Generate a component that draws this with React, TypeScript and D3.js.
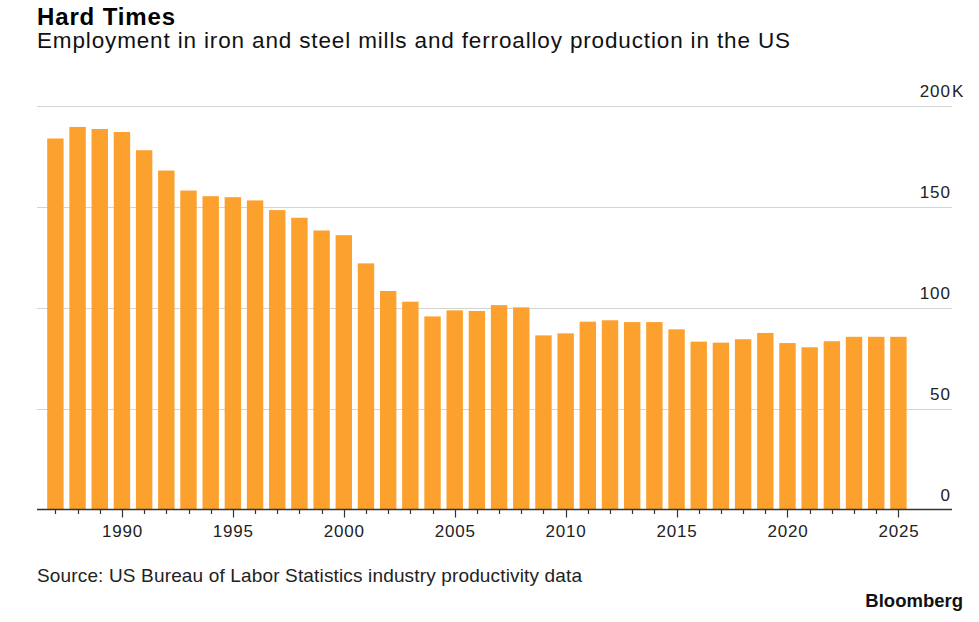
import React from "react";
import * as d3 from "d3";

// Employment in iron and steel mills and ferroalloy production, thousands of workers
const years: number[] = [
  1987, 1988, 1989, 1990, 1991, 1992, 1993, 1994, 1995, 1996, 1997, 1998, 1999,
  2000, 2001, 2002, 2003, 2004, 2005, 2006, 2007, 2008, 2009, 2010, 2011, 2012,
  2013, 2014, 2015, 2016, 2017, 2018, 2019, 2020, 2021, 2022, 2023, 2024, 2025,
];
const employment: number[] = [
  183.9, 189.6, 188.6, 187.1, 178.1, 168.0, 158.1, 155.3, 154.8, 153.2, 148.4,
  144.6, 138.3, 136.0, 122.0, 108.3, 103.0, 95.7, 98.7, 98.4, 101.3, 100.2, 86.3,
  87.3, 93.1, 93.8, 92.9, 92.9, 89.3, 83.2, 82.7, 84.4, 87.5, 82.5, 80.4, 83.4,
  85.6, 85.6, 85.6,
];
const yTicks: number[] = [0, 50, 100, 150, 200];
const xLabelYears: number[] = [1990, 1995, 2000, 2005, 2010, 2015, 2020, 2025];

const title = "Hard Times";
const subtitle = "Employment in iron and steel mills and ferroalloy production in the US";
const source = "Source: US Bureau of Labor Statistics industry productivity data";

const W = 979;
const H = 622;
const FONT = "'Liberation Sans', Arial, Helvetica, sans-serif";
const BAR = "#fda12e";

export default function App() {
  const plotLeft = 37;
  const plotRight = 952;
  const y = d3.scaleLinear().domain([0, 200]).range([509.5, 106]);
  const x = d3
    .scaleBand<number>()
    .domain(years)
    .range([44.3, 909.5])
    .paddingInner(0.26)
    .paddingOuter(0.13);
  const center = (yr: number) => (x(yr) ?? 0) + x.bandwidth() / 2;
  const baseY = Math.round(y(0)) - 0.5;

  return (
    <svg
      width={W}
      height={H}
      viewBox={`0 0 ${W} ${H}`}
      style={{ position: "absolute", left: 0, top: 0, background: "#fff", fontFamily: FONT }}
    >
      <text x={37} y={25} fontSize={24} fontWeight={700} fill="#000" textLength={138} lengthAdjust="spacing">
        {title}
      </text>
      <text x={37} y={48} fontSize={22.5} fill="#111" textLength={753} lengthAdjust="spacing">
        {subtitle}
      </text>

      {/* horizontal gridlines and right-side value labels */}
      {yTicks.map((t) => {
        const gy = Math.round(y(t)) + 0.5;
        return (
          <g key={t}>
            {t > 0 && (
              <line x1={plotLeft} x2={plotRight} y1={gy} y2={gy} stroke="#d4d4d4" strokeWidth={1} />
            )}
            <text x={plotRight - 1} y={gy - 10} fontSize={17} fill="#222" textAnchor="end" letterSpacing={1}>
              {t}
            </text>
            {t === 200 && (
              <text x={plotRight} y={gy - 10} fontSize={17} fill="#222">
                K
              </text>
            )}
          </g>
        );
      })}

      {/* bars */}
      {years.map((yr, i) => (
        <rect
          key={yr}
          x={x(yr)}
          y={y(employment[i])}
          width={x.bandwidth()}
          height={y(0) - y(employment[i])}
          fill={BAR}
        />
      ))}

      {/* baseline axis with yearly ticks */}
      <line x1={plotLeft} x2={plotRight} y1={baseY} y2={baseY} stroke="#333" strokeWidth={1.3} />
      {years.map((yr) => {
        const major = xLabelYears.includes(yr);
        const cx = Math.round(center(yr)) + 0.5;
        return (
          <line
            key={yr}
            x1={cx}
            x2={cx}
            y1={baseY}
            y2={baseY + (major ? 8 : 4.5)}
            stroke="#333"
            strokeWidth={1.2}
          />
        );
      })}
      {xLabelYears.map((yr) => (
        <text key={yr} x={center(yr) + 0.5} y={537} fontSize={17} fill="#222" textAnchor="middle" letterSpacing={0.8}>
          {yr}
        </text>
      ))}

      <text x={37} y={582} fontSize={19} fill="#222" textLength={545} lengthAdjust="spacing">
        {source}
      </text>
      <text x={963} y={607} fontSize={18.5} fontWeight={700} fill="#111" textAnchor="end">
        Bloomberg
      </text>
    </svg>
  );
}
